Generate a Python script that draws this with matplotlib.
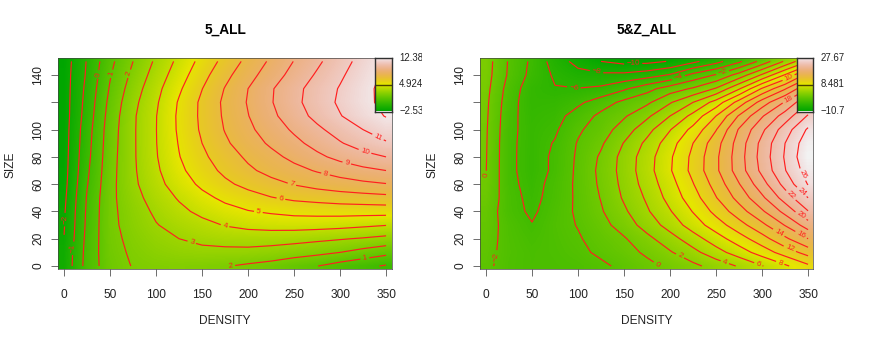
import colorsys
import numpy as np
import matplotlib
matplotlib.use("Agg")
import matplotlib.pyplot as plt
from matplotlib.colors import LinearSegmentedColormap
from matplotlib.transforms import Bbox

plt.rcParams['font.family'] = ['Liberation Sans', 'DejaVu Sans']
plt.rcParams['contour.negative_linestyle'] = 'solid'

W, H = 872, 343

density = [0, 25, 50, 75, 100, 125, 150, 175, 200, 225, 250, 275, 300, 325, 350]
size = [0, 10, 20, 30, 40, 50, 60, 70, 80, 90, 100, 110, 120, 130, 140, 150]

z_left = [
    [-1.75, 0.40, 1.55, 2.05, 2.17, 2.20, 2.15, 2.05, 1.85, 1.65, 1.30, 1.02, 0.60, 0.25, -0.10],
    [-1.80, 0.35, 1.65, 2.15, 2.45, 2.65, 2.75, 2.75, 2.75, 2.62, 2.45, 2.25, 2.00, 1.65, 1.30],
    [-1.98, 0.28, 1.70, 2.27, 2.70, 3.00, 3.22, 3.36, 3.40, 3.40, 3.32, 3.20, 3.07, 2.92, 2.72],
    [-2.05, 0.20, 1.75, 2.40, 2.95, 3.35, 3.70, 4.05, 4.28, 4.38, 4.42, 4.38, 4.30, 4.17, 4.03],
    [-2.10, 0.15, 1.75, 2.50, 3.17, 3.75, 4.25, 4.65, 4.95, 5.12, 5.27, 5.33, 5.37, 5.37, 5.38],
    [-2.20, 0.08, 1.75, 2.65, 3.43, 4.10, 4.72, 5.22, 5.60, 5.95, 6.20, 6.35, 6.50, 6.60, 6.70],
    [-2.30, -0.05, 1.70, 2.80, 3.67, 4.50, 5.20, 5.80, 6.28, 6.70, 7.05, 7.35, 7.58, 7.78, 7.95],
    [-2.35, -0.17, 1.65, 2.85, 3.83, 4.78, 5.55, 6.22, 6.82, 7.30, 7.70, 8.08, 8.43, 8.75, 9.00],
    [-2.38, -0.27, 1.60, 2.87, 3.93, 4.96, 5.80, 6.52, 7.17, 7.72, 8.25, 8.78, 9.28, 9.68, 10.00],
    [-2.40, -0.35, 1.55, 2.87, 3.97, 5.06, 6.00, 6.84, 7.55, 8.15, 8.73, 9.34, 9.92, 10.45, 10.90],
    [-2.42, -0.42, 1.50, 2.87, 3.98, 5.15, 6.15, 7.05, 7.80, 8.47, 9.15, 9.80, 10.42, 11.00, 11.50],
    [-2.45, -0.55, 1.40, 2.85, 3.97, 5.17, 6.20, 7.15, 7.97, 8.77, 9.55, 10.27, 10.95, 11.55, 12.05],
    [-2.45, -0.65, 1.27, 2.72, 3.87, 5.10, 6.20, 7.20, 8.07, 8.93, 9.75, 10.47, 11.15, 11.75, 12.25],
    [-2.45, -0.75, 1.10, 2.50, 3.70, 4.85, 5.98, 7.05, 8.00, 8.90, 9.70, 10.42, 11.07, 11.72, 12.30],
    [-2.45, -0.87, 0.93, 2.25, 3.43, 4.55, 5.65, 6.72, 7.65, 8.50, 9.35, 10.12, 10.85, 11.55, 12.20],
    [-2.50, -0.93, 0.75, 2.00, 3.17, 4.26, 5.32, 6.32, 7.29, 8.17, 9.03, 9.81, 10.60, 11.35, 12.10],
]

z_right = [
    [-1.60, -2.80, -3.20, -3.10, -2.90, -2.40, -1.50, -0.55, 0.45, 1.50, 2.80, 4.20, 5.90, 7.65, 9.60],
    [-1.40, -2.70, -3.25, -3.00, -2.50, -1.60, -0.75, 0.35, 1.80, 3.40, 5.20, 7.00, 8.90, 10.90, 12.80],
    [-1.20, -2.75, -3.50, -2.90, -2.20, -1.15, -0.20, 1.45, 3.20, 5.10, 7.10, 9.10, 11.20, 13.60, 16.00],
    [-1.00, -2.85, -3.90, -2.80, -1.90, -0.70, 0.90, 2.85, 4.80, 6.95, 9.00, 11.20, 13.50, 16.10, 19.00],
    [-0.80, -3.20, -4.35, -2.95, -1.70, -0.20, 1.65, 3.75, 5.85, 8.10, 10.60, 13.10, 15.70, 18.60, 21.90],
    [-0.40, -3.20, -4.60, -3.20, -1.65, 0.10, 2.25, 4.30, 6.70, 9.10, 11.90, 14.70, 17.60, 20.90, 24.00],
    [-0.10, -3.40, -4.80, -3.30, -1.60, 0.35, 2.55, 4.85, 7.20, 9.90, 12.80, 15.90, 19.20, 22.70, 26.10],
    [0.05, -3.50, -5.00, -3.60, -1.60, 0.50, 2.75, 5.20, 7.80, 10.60, 13.60, 17.00, 20.50, 23.90, 27.00],
    [0.10, -3.50, -5.00, -3.60, -1.70, 0.30, 2.70, 5.10, 7.70, 10.50, 13.60, 17.10, 20.80, 24.20, 27.67],
    [0.15, -3.50, -4.95, -3.85, -1.85, -0.30, 2.10, 4.50, 7.10, 10.00, 13.20, 16.90, 20.60, 24.00, 27.30],
    [0.20, -3.40, -4.95, -4.30, -2.30, -1.00, 0.95, 3.30, 5.90, 8.60, 11.90, 16.20, 19.60, 23.00, 26.30],
    [0.30, -3.30, -5.10, -4.70, -3.15, -1.50, -0.25, 1.60, 4.00, 6.60, 10.00, 14.20, 17.80, 20.90, 24.20],
    [0.40, -3.10, -5.30, -5.20, -4.40, -3.00, -1.50, -0.40, 1.80, 4.00, 6.80, 10.80, 14.90, 18.20, 21.90],
    [0.60, -2.80, -5.20, -5.90, -5.95, -5.60, -4.30, -2.70, -1.00, 0.25, 2.20, 5.80, 10.20, 13.80, 18.00],
    [0.80, -2.30, -4.60, -6.30, -7.30, -7.60, -7.50, -6.90, -5.80, -3.40, -1.80, 0.80, 4.30, 8.20, 12.90],
    [0.90, -2.20, -4.40, -6.90, -8.70, -10.00, -10.60, -10.50, -9.90, -8.50, -6.70, -4.40, -1.30, 2.30, 6.00],
]

levels_left = list(range(-2, 13))
levels_right = list(range(-10, 27, 2))

labels_left = [(35.9, 140.5), (51, 141), (70.6, 141), (341.6, 95), (327, 83.8), (307, 74.6),
               (283.7, 66), (247.5, 59.5), (235.5, 48.4), (211, 38.6), (175, 29.6), (138.8, 17.4),
               (178, 0.5), (327, 5.6), (9.4, 13), (1, 34)]
labels_right = [(0.7, 62), (6.9, 7.3), (95.6, 131.5), (120, 142), (160, 148), (209, 138.7), (257, 142),
                (329.7, 137), (330, 120.5), (344, 67), (343.5, 54.6), (331.5, 52), (342, 36.6),
                (342, 22.3), (317.8, 24), (330.4, 13), (319.6, 2), (296, 1.4), (259.8, 3.3),
                (210.9, 7.5), (187, 2)]

xticks = [0, 50, 100, 150, 200, 250, 300, 350]
yticks = [0, 20, 40, 60, 80, 100, 120, 140]
ytick_labels = ['0', '20', '40', '60', '80', '100', '', '140']


def terrain_cmap():
    cols = []
    n = 128
    for i in range(n):
        t = i / (n - 1)
        cols.append(colorsys.hsv_to_rgb((4 - 2 * t) / 12, 1.0, 0.65 + 0.25 * t))
    for i in range(n):
        t = i / (n - 1)
        cols.append(colorsys.hsv_to_rgb((2 - 2 * t) / 12, 1.0 - t, 0.90 + 0.05 * t))
    return LinearSegmentedColormap.from_list('terrain_r', cols, N=256)


cmap = terrain_cmap()
fig = plt.figure(figsize=(W / 100, H / 100), dpi=100)


def box(px0, py0, px1, py1):
    return [px0 / W, 1 - py1 / H, (px1 - px0) / W, (py1 - py0) / H]


def panel(px0, px1, xlim, z, levels, vmin, vmax, title, manual, bar_px, bar_labels, clip_px):
    ax = fig.add_axes(box(px0, 58, px1, 269.3))
    z = np.array(z)
    ax.imshow(z, origin='lower', extent=[-12.5, 362.5, -5, 155], aspect='auto', cmap=cmap,
              vmin=vmin, vmax=vmax, interpolation='bilinear')
    cs = ax.contour(density, size, z, levels=levels, colors='#ff1f1f', linewidths=0.85)
    ax.clabel(cs, inline=True, inline_spacing=2, fontsize=5.8,
              fmt=lambda v: f'{v:.0f}'.replace('-', '\u2212'), manual=manual)
    ax.set_xlim(*xlim)
    ax.set_ylim(-2.4, 152.5)
    ax.set_xticks(xticks)
    ax.set_yticks(yticks)
    ax.set_yticklabels(ytick_labels, rotation=90, va='center')
    ax.tick_params(length=5, width=0.5, color='#333333', labelsize=8.6, labelcolor='#222222')
    ax.tick_params(axis='x', pad=9)
    ax.tick_params(axis='y', pad=5)
    for s in ax.spines.values():
        s.set_linewidth(0.5)
        s.set_color('#444444')
    cx = (px0 + px1) / 2
    fig.text(cx / W, 1 - 30 / H, title, ha='center', va='center', fontsize=9.9, fontweight='bold')
    fig.text((cx + 0) / W, 1 - 320.5 / H, 'DENSITY', ha='center', va='center', fontsize=8.6, color='#222222')
    fig.text((px0 - 48) / W, 1 - 165 / H, 'SIZE', ha='center', va='center', rotation=90, fontsize=8.6,
             color='#222222')

    bar = fig.add_axes(box(bar_px[0], 58, bar_px[1], 111.5))
    bar.imshow(np.linspace(1, 0, 128)[:, None], aspect='auto', cmap=cmap, vmin=0, vmax=1,
               extent=[0, 1, 0, 1], interpolation='bilinear')
    bar.axhline(0.5, color='#4a4200', lw=1.0)
    bar.set_xticks([])
    bar.set_yticks([])
    for s in bar.spines.values():
        s.set_linewidth(1.0)
        s.set_color('#303030')
    clip = Bbox([[0, 0], [clip_px, H]])
    for lab, py in zip(bar_labels, (57.7, 84.3, 110.7)):
        t = fig.text((bar_px[1] + 7.5) / W, 1 - py / H, lab, ha='left', va='center', fontsize=6.9, color='#222222')
        t.set_clip_box(clip)
        t.set_clip_on(True)


panel(58.3, 392, (-6.3, 356.5), z_left, levels_left, -2.53, 12.38, '5_ALL', labels_left,
      (375, 391.7), ('12.38', '4.924', '\u22122.53'), 422)
panel(480.3, 813.3, (-6.2, 355.7), z_right, levels_right, -10.7, 27.67, '5&Z_ALL', labels_right,
      (796.7, 813.3), ('27.67', '8.481', '\u221210.7'), 845)

fig.savefig('out.png', dpi=100)
